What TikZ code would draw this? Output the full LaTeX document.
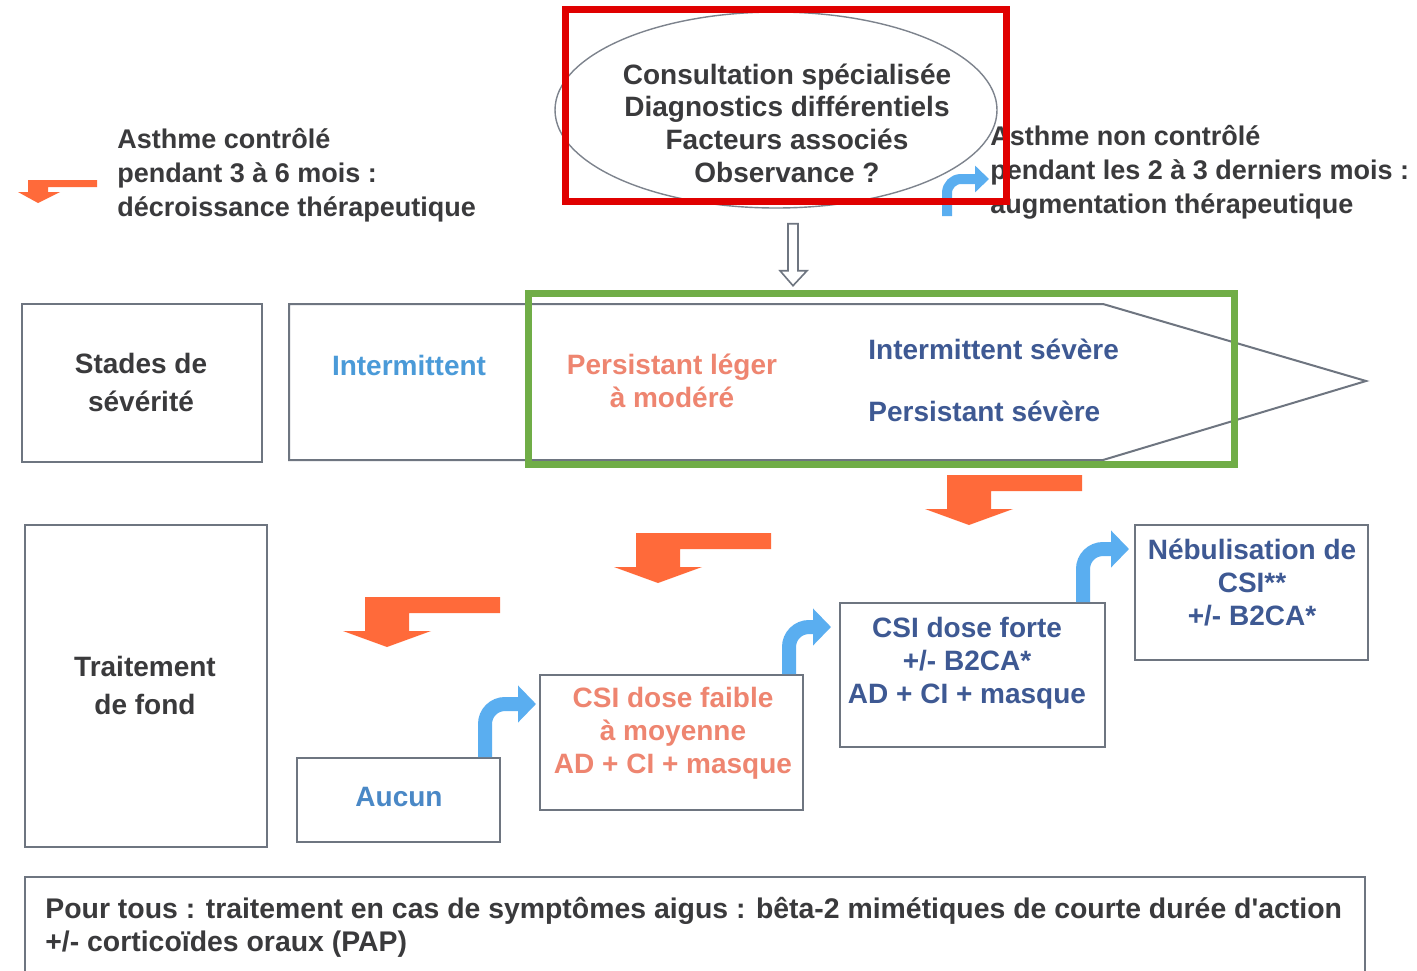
\documentclass[tikz,border=0pt]{standalone}
\usepackage{fontspec}
\setmainfont{Liberation Sans}
\newfontfamily\plainsans{Liberation Sans}
\usetikzlibrary{arrows.meta,shapes.geometric,calc}

\definecolor{ink}{HTML}{3A3A3C}
\definecolor{frame}{HTML}{6E7580}
\definecolor{skyblue}{HTML}{4A9AD8}
\definecolor{aucunblue}{HTML}{4A88C6}
\definecolor{salmon}{HTML}{EE8570}
\definecolor{slate}{HTML}{3E5993}
\definecolor{flame}{HTML}{FF6A3A}
\definecolor{bluearr}{HTML}{5AAEF0}
\definecolor{markred}{HTML}{E00000}
\definecolor{markgreen}{HTML}{70AD47}

\newcommand\boxfont{\bfseries\fontsize{14pt}{16.5pt}\selectfont}
\newcommand\headfont{\bfseries\fontsize{14pt}{19pt}\selectfont}
\newcommand\legfont{\bfseries\fontsize{13.5pt}{17pt}\selectfont}

\tikzset{
  frm/.style={draw=frame, line width=1pt},
  box/.style={frm, inner sep=0pt},
  lbl/.style={inner sep=0pt, align=center, font=\boxfont, text=ink},
  bluearrow/.style={draw=bluearr, line width=7pt, rounded corners=10pt,
    -{Triangle[length=9pt,width=18pt]}},
  bentdown/.pic={
    \fill[flame] (-22,-50) -- (113,-50) -- (113,-34) -- (22,-34) -- (22,-16)
      -- (44,-16) -- (0,0) -- (-44,-16) -- (-22,-16) -- cycle;
  }
}

\begin{document}
\begin{tikzpicture}[x=0.5pt, y=-0.5pt]
\useasboundingbox (0,0) rectangle (1417,970);
\fill[white] (0,0) rectangle (1417,970);

% consultation ellipse
\node[ellipse, draw=frame!90, line width=0.7pt, minimum width=221pt, minimum height=98pt, inner sep=0pt] (cons) at (776,110) {};
\node[lbl, font=\bfseries\fontsize{14pt}{16.3pt}\selectfont] (constext) at (787,123)
  {Consultation spécialisée\\Diagnostics différentiels\\Facteurs associés\\Observance ?};

% hollow arrow down to the severity band
\coordinate (hs) at ($(cons.south)+(12,15)$);
\draw[draw=frame, line width=0.8pt, fill=white] (hs) -- ++(10,0) -- ++(0,47) -- ++(9,0) -- ++(-14,15) -- ++(-13,-15) -- ++(8,0) -- cycle;

% legends
\node[inner sep=0pt, align=left, anchor=west, font=\legfont, text=ink] (legdown) at (117,175)
  {Asthme contrôlé\\pendant 3 à 6 mois :\\décroissance thérapeutique};
\fill[flame] (28,180) -- (97,180) -- (97,187) -- (48,187) -- (48,192) -- (60,192) -- (38,203) -- (18,192) -- (28,192) -- cycle;

\node[inner sep=0pt, align=left, anchor=west, font=\legfont, text=ink] (legup) at (990,172)
  {Asthme non contrôlé\\pendant les 2 à 3 derniers mois :\\augmentation thérapeutique};
\coordinate (lb0) at (947,216);
\coordinate (lb1) at (989,179);
\draw[bluearrow, line width=5pt, rounded corners=7pt, -{Triangle[length=7pt,width=13pt]}] (lb0) |- (lb1);

% severity row
\node[box, minimum width=120pt, minimum height=79pt] (stades) at (142,383) {};
\node[lbl, font=\headfont] (stadestext) at (141,382) {Stades de\\sévérité};
\draw[frm] (289,304) -- (1103,304) -- (1366,381) -- (1103,460) -- (289,460) -- cycle;
\node[lbl, text=skyblue] (interm) at (409,365) {Intermittent};
\node[lbl, text=salmon] (pleger) at (672,381) {Persistant léger\\à modéré};
\node[lbl, text=slate, anchor=west] (isev) at (868,349) {Intermittent sévère};
\node[lbl, text=slate, anchor=west] (psev) at (868,411) {Persistant sévère};

% treatment row
\node[box, minimum width=121pt, minimum height=161pt] (trait) at (146,686) {};
\node[lbl, font=\headfont] (traittext) at (145,685) {Traitement\\de fond};

\node[box, minimum width=101.5pt, minimum height=42pt] (aucun) at (398.5,800) {};
\node[lbl, text=aucunblue] (aucuntext) at (399,797) {Aucun};

\node[box, minimum width=131.5pt, minimum height=67.5pt] (faible) at (671.5,742.5) {};
\node[lbl, text=salmon] (faibletext) at (673,733) {CSI dose faible\\à moyenne\\AD + CI + masque};

\node[box, minimum width=132.5pt, minimum height=72pt] (forte) at (972.5,675) {};
\node[lbl, text=slate] (fortetext) at (967,663) {CSI dose forte\\+/- B2CA*\\AD + CI + masque};

\node[box, minimum width=116.5pt, minimum height=67.5pt] (nebul) at (1251.5,592.5) {};
\node[lbl, text=slate] (nebultext) at (1252,582) {Nébulisation de\\CSI**\\+/- B2CA*};

% step-down arrows
\pic at (387,647) {bentdown};
\pic at (658,583) {bentdown};
\pic at (969,525) {bentdown};

% step-up arrows
\draw[bluearrow] ($(aucun.north east)+(-16,0)$) |- ($(faible.north west)+(-3,30)$);
\draw[bluearrow] ($(faible.north east)+(-15,0)$) |- ($(forte.north west)+(-8,25)$);
\draw[bluearrow] ($(forte.north east)+(-23,0)$) |- ($(nebul.north west)+(-5,25)$);

% common treatment
\draw[frm] (25,1000) -- (25,877) -- (1365,877) -- (1365,1000);
\node[inner sep=0pt, align=left, anchor=west, font=\plainsans\bfseries\fontsize{14.2pt}{16.5pt}\selectfont, text=ink] (pourtous) at (45,927)
  {Pour tous : traitement en cas de symptômes aigus : bêta-2 mimétiques de courte durée d'action\\+/- corticoïdes oraux (PAP)};

% highlight frames
\draw[markred, line width=3.5pt] (565,9) rectangle (1006,201);
\draw[markgreen, line width=3.5pt] (528,293) rectangle (1234,464);
\end{tikzpicture}
\end{document}
